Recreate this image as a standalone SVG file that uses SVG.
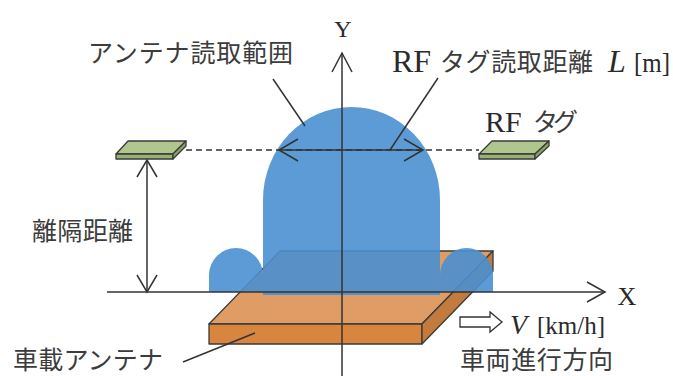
<svg xmlns="http://www.w3.org/2000/svg" width="673" height="376" viewBox="0 0 673 376">
  <style>
    .ln { stroke: #333; stroke-width: 1.5; fill: none; }
    .edge { stroke: #3a3a3a; stroke-width: 1.3; stroke-linejoin: round; }
    .blue { fill: #4a90d0; fill-opacity: 0.9; }
    .jp { font-family: "Liberation Serif", "Noto Sans CJK JP", serif; font-size: 25px; fill: #3c3c3c; }
    .lat { font-family: "Liberation Serif", serif; fill: #2a2a2a; }
    .it { font-style: italic; }
  </style>
  <rect width="673" height="376" fill="#ffffff"/>

  <!-- vehicle-mounted antenna board -->
  <g id="antenna-board">
    <polygon class="edge" points="280,251 493,251 422,324 209,324" fill="#df9c64"/>
    <polygon class="edge" points="209,324 422,324 422,344 209,344" fill="#d8853f"/>
    <polygon class="edge" points="422,324 493,251 493,271 422,344" fill="#c27a3d"/>
  </g>

  <!-- antenna read range -->
  <g id="read-range">
    <path class="blue" d="M263,295 V200 A88.5,93 0 0 1 440,200 V295 Z"/>
    <path class="blue" d="M209,292 V275 A27,27 0 0 1 263,275 V292 Z"/>
    <path class="blue" d="M440,292 V275 A26.5,27 0 0 1 493,275 V292 Z"/>
  </g>

  <!-- RF tags -->
  <g id="tag-left">
    <polygon class="edge" points="128,141 186,141 173,154 116,154" fill="#b1c58f"/>
    <polygon class="edge" points="116,154 173,154 173,159 116,159" fill="#98b274"/>
    <polygon class="edge" points="173,154 186,141 186,146 173,159" fill="#8aa466"/>
  </g>
  <g id="tag-right">
    <polygon class="edge" points="492,141 549,141 535,154 479,154" fill="#b1c58f"/>
    <polygon class="edge" points="479,154 535,154 535,159 479,159" fill="#98b274"/>
    <polygon class="edge" points="535,154 549,141 549,146 535,159" fill="#8aa466"/>
  </g>

  <!-- travel direction arrow -->
  <g id="direction-arrow">
    <polygon points="460,317 490,317 490,312 502,322 490,332 490,327 460,327" fill="#ffffff" stroke="#333" stroke-width="1.3" stroke-linejoin="miter"/>
  </g>

  <!-- axes, dimension arrows and leader lines -->
  <g id="connectors">
    <line class="ln" x1="186" y1="150" x2="479" y2="150" stroke-dasharray="6,4"/>
    <!-- X axis -->
    <line class="ln" x1="107" y1="292" x2="605" y2="292"/>
    <polyline class="ln" points="587,282 605,292 587,302"/>
    <!-- Y axis -->
    <line class="ln" x1="342" y1="53" x2="342" y2="376"/>
    <polyline class="ln" points="332,72 342,53 352,72"/>
    <!-- read distance L -->
    <line class="ln" x1="279" y1="150" x2="423" y2="150"/>
    <polyline class="ln" points="298,139 279,150 298,161"/>
    <polyline class="ln" points="404,139 423,150 404,161"/>
    <!-- separation distance -->
    <line class="ln" x1="147" y1="160" x2="147" y2="292"/>
    <polyline class="ln" points="137,177 147,160 157,177"/>
    <polyline class="ln" points="137,275 147,292 157,275"/>
    <!-- leaders -->
    <line class="ln" x1="273" y1="79" x2="305" y2="126"/>
    <line class="ln" x1="438" y1="78" x2="390" y2="150"/>
    <line class="ln" x1="255" y1="333" x2="183" y2="362"/>
  </g>

  <!-- labels -->
  <g id="labels">
    <text class="lat" x="343" y="37" font-size="24" text-anchor="middle">Y</text>
    <text class="lat" x="627" y="305" font-size="26" text-anchor="middle">X</text>
    <text class="jp" x="88" y="62" textLength="205" lengthAdjust="spacing">アンテナ読取範囲</text>
    <text class="lat" x="392" y="72" font-size="32">RF</text>
    <text class="jp" x="440" y="71" textLength="153" lengthAdjust="spacing">タグ読取距離</text>
    <text class="lat it" x="608" y="72" font-size="32">L</text>
    <text class="lat" x="634" y="72" font-size="28" textLength="36" lengthAdjust="spacingAndGlyphs">[m]</text>
    <text class="lat" x="485" y="132" font-size="30">RF</text>
    <text class="jp" x="533" y="131" font-size="22" textLength="45" lengthAdjust="spacing">タグ</text>
    <text class="jp" x="32" y="240" textLength="101" lengthAdjust="spacing">離隔距離</text>
    <text class="jp" x="13" y="369" textLength="150" lengthAdjust="spacing">車載アンテナ</text>
    <text class="lat it" x="510" y="334" font-size="28">V</text>
    <text class="lat" x="537" y="334" font-size="25" textLength="68" lengthAdjust="spacingAndGlyphs">[km/h]</text>
    <text class="jp" x="460" y="369" textLength="153" lengthAdjust="spacing">車両進行方向</text>
  </g>
</svg>
